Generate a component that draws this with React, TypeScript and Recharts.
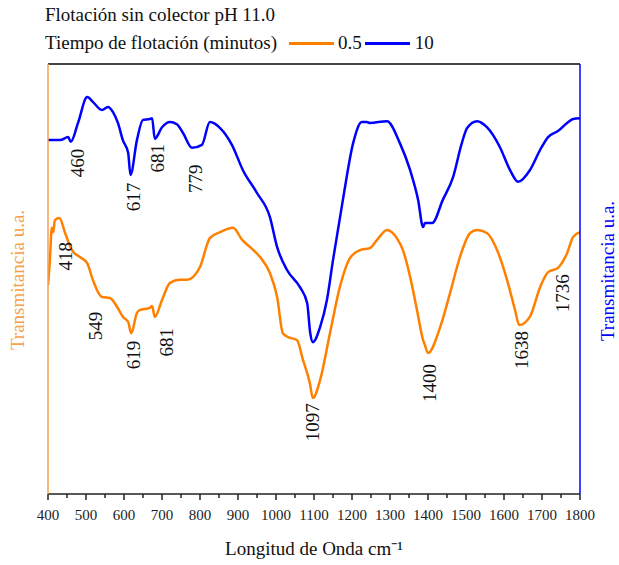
import React from 'react';
import { LineChart, Line, XAxis, YAxis, ReferenceLine, ReferenceDot } from 'recharts';

// FTIR spectra, flotation without collector pH 11.0
const blueWave = [400, 432, 453, 460, 479, 503, 518, 542, 558, 571, 584, 597, 611, 617, 634, 650, 668, 674, 681, 700, 721, 739, 755, 779, 805, 826, 853, 884, 913, 950, 984, 1003, 1029, 1063, 1082, 1090, 1097, 1116, 1134, 1150, 1176, 1203, 1226, 1239, 1247, 1292, 1326, 1353, 1374, 1387, 1392, 1411, 1439, 1466, 1489, 1503, 1529, 1555, 1589, 1616, 1637, 1668, 1695, 1716, 1742, 1766, 1782, 1800];
const blueVals = [82.3, 82.3, 83.0, 81.9, 86.3, 92.3, 91.2, 89.3, 90.0, 88.8, 86.3, 82.3, 79.3, 74.2, 82.3, 87.0, 87.2, 87.4, 82.6, 85.3, 86.5, 86.0, 84.0, 80.5, 81.2, 86.5, 85.1, 81.2, 75.3, 70.0, 64.4, 57.4, 52.1, 48.1, 44.4, 37.5, 35.3, 38.8, 45.1, 54.4, 68.4, 81.6, 86.5, 86.5, 86.3, 86.7, 81.6, 75.3, 68.4, 62.1, 63.0, 63.0, 68.4, 73.7, 81.6, 85.1, 86.7, 85.3, 80.7, 75.3, 72.6, 75.3, 80.0, 83.0, 84.4, 86.3, 87.2, 87.4];

const orangeWave = [400, 405, 410, 414, 418, 430, 445, 463, 484, 503, 518, 542, 563, 582, 597, 611, 619, 634, 642, 668, 674, 681, 700, 721, 747, 766, 782, 800, 826, 853, 887, 911, 932, 958, 984, 1003, 1018, 1032, 1055, 1071, 1089, 1097, 1116, 1142, 1168, 1195, 1221, 1247, 1266, 1292, 1318, 1334, 1353, 1371, 1387, 1392, 1400, 1432, 1458, 1484, 1511, 1529, 1555, 1582, 1608, 1629, 1640, 1668, 1695, 1716, 1742, 1766, 1782, 1800];
const orangeVals = [48.6, 54.4, 61.9, 60.9, 63.7, 64.2, 60.7, 56.7, 55.1, 53.7, 49.8, 45.8, 45.6, 43.5, 41.2, 40.0, 37.4, 42.1, 42.8, 43.3, 43.7, 41.2, 45.1, 49.1, 49.8, 49.8, 50.5, 52.8, 59.5, 60.9, 61.9, 59.1, 57.4, 55.1, 51.4, 45.8, 37.4, 36.5, 35.8, 31.2, 25.8, 22.3, 26.5, 37.4, 48.1, 54.9, 56.7, 57.2, 59.1, 61.4, 59.5, 56.7, 50.5, 42.8, 35.8, 34.6, 32.8, 38.8, 46.7, 55.1, 60.7, 61.4, 60.7, 56.7, 49.8, 42.8, 39.3, 41.2, 48.1, 51.6, 52.6, 56.0, 59.8, 60.9];

// band labels: wavenumber, position in y units
const blueBands = ['460', '617', '681', '779'];
const blueBandX = [477, 624, 689, 787];
const blueBandY = [77.0, 69.1, 78.1, 73.3];
const orangeBands = ['418', '549', '619', '681', '1097', '1400', '1638', '1736'];
const orangeBandX = [445, 524, 624, 713, 1097, 1405, 1645, 1755];
const orangeBandY = [55.3, 39.1, 32.3, 35.3, 16.7, 25.8, 33.5, 46.7];

const xTicks = [400, 450, 500, 550, 600, 650, 700, 750, 800, 850, 900, 950, 1000, 1050, 1100, 1150, 1200, 1250, 1300, 1350, 1400, 1450, 1500, 1550, 1600, 1650, 1700, 1750, 1800];

const blueData = blueWave.map((w, i) => ({ w, t: blueVals[i] }));
const orangeData = orangeWave.map((w, i) => ({ w, t: orangeVals[i] }));

const ORANGE = '#ff8000';
const ORANGE_LIGHT = '#f7a04c';
const BLUE = '#0000ff';
const FONT = '"Liberation Serif", "Times New Roman", serif';

const XTick = (props: any) => {
  const { x, y, payload } = props;
  const major = payload.value % 100 === 0;
  return (
    <g>
      <line x1={x} y1={y} x2={x} y2={y + (major ? 6 : 4)} stroke="#222" strokeWidth={1.5} />
      {major && (
        <text x={x} y={y + 26} textAnchor="middle" fontFamily={FONT} fontSize={15} fill="#222">
          {payload.value}
        </text>
      )}
    </g>
  );
};

const bandLabel = (text: string) => (props: any) => {
  const { viewBox } = props;
  const cx = viewBox.x + viewBox.width / 2;
  const cy = viewBox.y + viewBox.height / 2;
  return (
    <text x={cx} y={cy} transform={`rotate(-90 ${cx} ${cy})`} textAnchor="middle" dominantBaseline="central"
      fontFamily={FONT} fontSize={19} fill="#111">
      {text}
    </text>
  );
};

const App = () => (
  <div style={{ position: 'absolute', left: 0, top: 0, width: 619, height: 565, background: '#fff' }}>
    <LineChart width={619} height={565} margin={{ top: 64, right: 38, bottom: 0, left: 47 }}>
      <XAxis xAxisId="w" type="number" dataKey="w" domain={[400, 1800]} ticks={xTicks} interval={0}
        height={71} tickSize={0} tickMargin={0} tick={<XTick />} stroke="#222" strokeWidth={1.5}
        allowDataOverflow
        label={{ value: 'Longitud de Onda cm⁻¹', position: 'insideBottom', offset: 10, fill: '#111', fontSize: 19, fontFamily: FONT }} />
      <YAxis yAxisId="l" orientation="left" width={1} domain={[0, 100]} tick={false} tickLine={false}
        axisLine={{ stroke: ORANGE_LIGHT, strokeWidth: 1.5 }} />
      <YAxis yAxisId="r" orientation="right" width={1} domain={[0, 100]} tick={false} tickLine={false}
        axisLine={{ stroke: BLUE, strokeWidth: 1.5 }} />
      <ReferenceLine xAxisId="w" yAxisId="l" y={100} stroke="#444" strokeWidth={2} />
      <Line xAxisId="w" yAxisId="l" data={orangeData} dataKey="t" type="monotone" stroke={ORANGE} strokeWidth={2.5}
        dot={false} isAnimationActive={false} />
      <Line xAxisId="w" yAxisId="r" data={blueData} dataKey="t" type="monotone" stroke={BLUE} strokeWidth={2.5}
        dot={false} isAnimationActive={false} />
      {blueBands.map((b, i) => (
        <ReferenceDot key={'b' + b} xAxisId="w" yAxisId="r" x={blueBandX[i]} y={blueBandY[i]} r={0}
          fill="none" stroke="none" label={bandLabel(b)} />
      ))}
      {orangeBands.map((b, i) => (
        <ReferenceDot key={'o' + b} xAxisId="w" yAxisId="l" x={orangeBandX[i]} y={orangeBandY[i]} r={0}
          fill="none" stroke="none" label={bandLabel(b)} />
      ))}
    </LineChart>
    <div style={{ position: 'absolute', left: 45, top: 4, fontFamily: FONT, fontSize: 19, color: '#111', whiteSpace: 'nowrap' }}>
      Flotación sin colector pH 11.0
    </div>
    <div style={{ position: 'absolute', left: 45, top: 32, fontFamily: FONT, fontSize: 19, color: '#111', whiteSpace: 'nowrap', display: 'flex', alignItems: 'center' }}>
      <span>Tiempo de flotación (minutos)</span>
      <span style={{ display: 'inline-block', width: 45, height: 3, background: ORANGE, marginLeft: 12, marginRight: 4 }} />
      <span>0.5</span>
      <span style={{ display: 'inline-block', width: 45, height: 3, background: BLUE, marginLeft: 3, marginRight: 5 }} />
      <span>10</span>
    </div>
    <div style={{ position: 'absolute', left: 18, top: 280, transform: 'translate(-50%, -50%) rotate(-90deg)', fontFamily: FONT, fontSize: 19, color: ORANGE_LIGHT, whiteSpace: 'nowrap' }}>
      Transmitancia u.a.
    </div>
    <div style={{ position: 'absolute', left: 608, top: 271, transform: 'translate(-50%, -50%) rotate(-90deg)', fontFamily: FONT, fontSize: 19, color: BLUE, whiteSpace: 'nowrap' }}>
      Transmitancia u.a.
    </div>
  </div>
);

export default App;
